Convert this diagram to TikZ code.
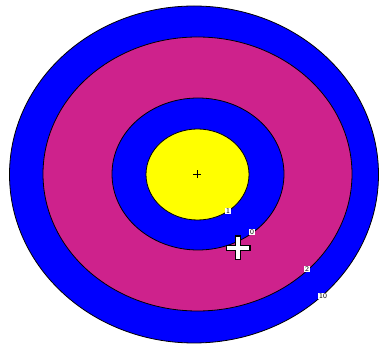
\documentclass[tikz,border=0pt]{standalone}
\usepackage{tikz}
\usetikzlibrary{positioning, calc}

\definecolor{ringblue}{RGB}{0,0,255}
\definecolor{ringpink}{RGB}{206,34,140}
\definecolor{ringyellow}{RGB}{255,255,0}

\begin{document}
\begin{tikzpicture}[x=0.75pt, y=-0.75pt, ring/.style={draw=black, line width=0.6pt}, level/.style={fill=white, inner sep=0.6pt, font=\sffamily\fontsize{5.5}{5.5}\selectfont}]
\useasboundingbox (0,0) rectangle (379,345);
\coordinate (C) at (197,174.5);
\draw[ring, fill=ringblue] (194,174.5) ellipse [x radius=184.5, y radius=168.5];
\draw[ring, fill=ringpink] (197.5,174) ellipse [x radius=154.5, y radius=137];
\draw[ring, fill=ringblue] (198,174) ellipse [x radius=86, y radius=76];
\draw[ring, fill=ringyellow] (197.5,174.5) ellipse [x radius=51.5, y radius=45.5];
\draw[line width=0.6pt] ($(C)+(-4,0)$) -- ($(C)+(4,0)$) ($(C)+(0,-4)$) -- ($(C)+(0,4)$);
\node[level] (L1) at (228,211) {1};
\node[level] (L0) at (252,232) {0};
\node[level] (L2) at (307,269) {2};
\node[level] (L10) at (323,296) {10};
% cursor
\coordinate (P) at (238,248);
\draw[line width=5pt] ($(P)+(-12.5,0)$) -- ($(P)+(12.5,0)$) ($(P)+(0,-12.5)$) -- ($(P)+(0,12.5)$);
\draw[white, line width=3pt] ($(P)+(-11.3,0)$) -- ($(P)+(11.3,0)$) ($(P)+(0,-11.3)$) -- ($(P)+(0,11.3)$);
\end{tikzpicture}
\end{document}
